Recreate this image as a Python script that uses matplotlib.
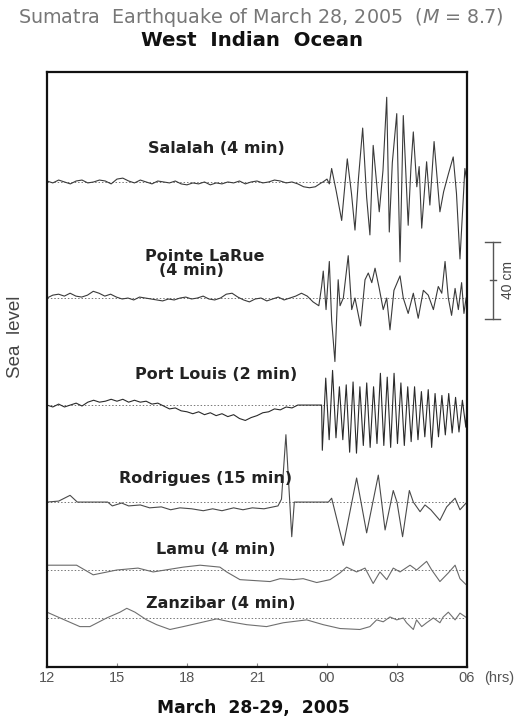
import numpy as np
import matplotlib
matplotlib.use("Agg")
import matplotlib.pyplot as plt
from matplotlib.transforms import blended_transform_factory

plt.rcParams['font.family'] = ['Liberation Sans', 'DejaVu Sans']
plt.rcParams['mathtext.fontset'] = 'custom'
plt.rcParams['mathtext.it'] = 'DejaVu Sans:italic'
plt.rcParams['mathtext.rm'] = 'DejaVu Sans'
WIDE = ['DejaVu Sans']

# time axis: hours from 00 of March 28 (24 = midnight, 30 = 06 on the 29th)
hour_ticks = [12, 15, 18, 21, 24, 27, 30]
hour_labels = ['12', '15', '18', '21', '00', '03', '06']

stations = ['Salalah (4 min)', 'Pointe LaRue', 'Port Louis (2 min)',
            'Rodrigues (15 min)', 'Lamu (4 min)', 'Zanzibar (4 min)']

# sea level deviations in cm
# Salalah: quiet record (12:00 - 23:45) then tsunami
salalah_quiet = [0.5, -0.5, 1, 0, -1, 0.5, 1, -0.5, 0, 1, 0.5, -1,
                 1.5, 2, 0.5, -0.5, 1, 0, -1, 0.5, 0, -0.5, 0.5, -1,
                 -1.5, -0.5, -1, 0, -1.5, -0.5, -1, 0, -0.5, 0.5, -1, 0,
                 0.5, -0.5, 0, 1, 0.5, -0.5, 0, -1, -2.5, -3, -2.5, -0.5]
salalah_t = [23.83, 24.0, 24.1, 24.2, 24.4, 24.63, 24.87, 25.05, 25.2, 25.35,
             25.53, 25.7, 25.84, 25.98, 26.1, 26.24, 26.4, 26.56, 26.67, 26.8,
             26.99, 27.13, 27.27, 27.48, 27.6, 27.7, 27.85, 27.95, 28.06, 28.27,
             28.41, 28.59, 28.84, 29.0, 29.2, 29.41, 29.55, 29.70, 29.91, 30.0]
salalah_v = [0, 1.5, -1, 7, -5, -20, 12, -6, -25, 2,
             28, -8, -27.5, 19, 3, -15.5, 6, 44, -26, 10,
             35.5, -41.5, 34.5, -22.5, 8, 26, -2.5, 8, -24, 10.5,
             -12, 21, -15.5, -5, 4, 13, -6, -40, 7, 0]

# Pointe LaRue
larue_quiet = [0, 1.5, 2, 1, 2.5, 1, 0.5, 1.5, 3.5, 2.5, 1, 2,
               0.5, -0.5, 0, -1, 0.5, 0, -0.5, -1, -1.5, -0.5, -1, 0,
               0.5, -0.5, 0, 1, -0.5, -1, 0, 2, 2.5, 0.5, -1, -2,
               -0.5, 0, -1.5, -0.5, 0.5, -1, 0, 1, 2.5, 1, -2, -4]
larue_t = [23.77, 23.84, 23.96, 24.10, 24.20, 24.34, 24.48, 24.56, 24.70, 24.91,
           25.06, 25.20, 25.44, 25.63, 25.77, 25.92, 26.06, 26.24, 26.41, 26.56,
           26.70, 26.87, 27.13, 27.27, 27.48, 27.70, 27.91, 28.13, 28.34, 28.56,
           28.77, 28.92, 29.06, 29.20, 29.34, 29.49, 29.63, 29.77, 29.87, 29.96]
larue_v = [6, 14, -6, 19, -11.5, -33, 9.5, -4, 0, 22,
           -6, 0, -14.5, 9.5, 13, 8, 15.5, 5, -6, 0,
           -16.5, 4, 11.5, 0, -8, 2.5, -10.5, 4, 1.5, -6,
           6, 2.5, 19, 0, -9, 5, -6, 8, -8, 0]

# Port Louis: quiet record to 22:45, gap, then fast oscillation
portlouis_quiet = [0, -1, 0.5, -1, 0, 1, -0.5, 1.5, 2.5, 1.5, 2, 3,
                   2, 3, 1.5, 2.5, 1.5, 2, 0.5, 1, -0.5, -2, -1.5, -3,
                   -3.5, -4.5, -3.5, -5, -4, -5.5, -4.5, -6, -5, -7, -8, -6.5,
                   -5.5, -4, -3.5, -2, -2.5, -1, -1.5, 0]
portlouis_wave = [-23.5, 14, -18, 18, -17, 9.5, -18, 10.5, -24.5, 12,
                  -25, 9.5, -21, 11.5, -22, 9.5, -20, 16.5, -21, 14.5,
                  -22, 16.5, -20, 11.5, -21, 9.5, -19, 9.5, -18, 7,
                  -16.5, 8, -22, 6, -16.5, 5, -15.5, 6, -14.5, 4,
                  -14, 2.5, -11.5]

# Rodrigues (15 min sampling)
rodrigues_t = [12.0, 12.5, 12.99, 13.3, 14.6, 14.8, 15.2, 15.5, 16.0, 16.4,
               16.9, 17.3, 17.7, 18.2, 18.7, 19.1, 19.5, 20.0, 20.4, 20.8,
               21.3, 21.7, 21.9, 22.05, 22.24, 22.49, 22.6, 24.06, 24.2, 24.7,
               25.27, 25.7, 26.2, 26.49, 26.84, 27.0, 27.24, 27.53, 27.7, 27.99,
               28.2, 28.45, 28.84, 29.13, 29.49, 29.7, 30.0]
rodrigues_v = [0, 0.5, 3.5, 0, 0, -2, -0.5, -2, -1.5, -3,
               -2.5, -4, -3, -3.5, -4.5, -3.5, -4.5, -3, -4, -3,
               -3.5, -2.5, -2, 1.5, 35, -18, 0, 0, 2, -22.5,
               12.5, -16, 14, -14.5, 6, 0, -18, 6, 0, -5,
               -1.5, -4, -9.5, -2.5, 2, -4, 0]

# Lamu
lamu_t = [12.0, 13.27, 13.98, 14.99, 15.9, 16.55, 17.84, 18.56, 19.41, 19.7,
          20.27, 21.56, 21.99, 22.56, 22.98, 23.56, 24.13, 24.56, 24.84, 25.27,
          25.63, 25.98, 26.27, 26.56, 26.84, 27.13, 27.56, 27.84, 28.27, 28.49,
          28.84, 29.2, 29.49, 29.7, 29.91, 30.0]
lamu_v = [2.5, 2.5, -2.5, 0, 1, -1, 1.5, 2.5, 1.5, -1,
          -5, -6, -4.5, -5, -4.5, -6.5, -5, -1.5, 1.5, -1,
          1, -7, -1, -5, 1, -1, 2.5, 0, 4.5, 0,
          -6, -1.5, 2.5, -4.5, -7, -8]

# Zanzibar
zanzibar_t = [12.0, 12.56, 13.41, 13.84, 14.56, 15.13, 15.42, 15.77, 16.27, 16.7,
              17.27, 17.84, 18.56, 19.27, 19.84, 20.56, 21.41, 22.13, 23.13, 23.84,
              24.56, 25.41, 25.84, 26.13, 26.41, 26.7, 26.99, 27.27, 27.41, 27.7,
              27.84, 28.06, 28.27, 28.56, 28.84, 28.98, 29.2, 29.49, 29.7, 30.0]
zanzibar_v = [3, 0, -4.5, -4.5, 0, 3, 5, 3, -1, -3.5,
              -6, -4.5, -2.5, -0.5, -2, -3.5, -4.5, -2.5, -1, -3.5,
              -5.5, -6, -4.5, -1, -2, 0.5, -1, 0, -2.5, -6,
              -1, -4.5, -2.5, 0, -2.5, 0.5, 3, -1, 2.5, 0]

# ---- assemble the records ----
t_sal = np.concatenate([np.linspace(12, 23.75, len(salalah_quiet)), salalah_t])
v_sal = np.concatenate([salalah_quiet, salalah_v])
t_lar = np.concatenate([np.linspace(12, 23.65, len(larue_quiet)), larue_t])
v_lar = np.concatenate([larue_quiet, larue_v])
t_pl = np.concatenate([np.linspace(12, 22.75, len(portlouis_quiet)), [23.77],
                       np.linspace(23.8, 29.95, len(portlouis_wave)), [30.0]])
v_pl = np.concatenate([portlouis_quiet, [0], portlouis_wave, [0]])

records = [(t_sal, v_sal), (t_lar, v_lar), (t_pl, v_pl),
           (rodrigues_t, rodrigues_v), (lamu_t, lamu_v), (zanzibar_t, zanzibar_v)]
offsets = [252, 191.7, 136.1, 85.7, 50.4, 25.5]   # cm above the lower frame
colors = ['#3a3a3a', '#3a3a3a', '#2a2a2a', '#4a4a4a', '#6a6a6a', '#707070']

fig = plt.figure(figsize=(5.22, 7.17), dpi=100)
ax = fig.add_axes([0.090, 0.0697, 0.8046, 0.8298])

for (t, v), off, c in zip(records, offsets, colors):
    ax.axhline(off, ls=(0, (1.5, 2)), lw=0.7, color='#777777', zorder=1)
    ax.plot(t, np.asarray(v) + off, color=c, lw=0.8, zorder=2)

ax.set_xlim(12, 30)
ax.set_ylim(0, 309.1)
ax.set_yticks([])
ax.set_xticks(hour_ticks)
ax.set_xticklabels(hour_labels)
ax.tick_params(axis='x', direction='in', length=3, width=0.8, color='#888888',
               labelsize=10.5, labelcolor='#555555', pad=3)
for s in ax.spines.values():
    s.set_linewidth(1.6)
    s.set_color('#111111')

trans = blended_transform_factory(ax.transData, ax.transAxes)
ax.text(31.37, -0.0185, '(hrs)', transform=trans, ha='center', va='center',
        fontsize=10.5, color='#555555', clip_on=False)

# station labels
label_pos = [(19.24, 269.6), (18.77, 213.5), (19.24, 152.2),
             (18.81, 98.2), (19.24, 60.8), (19.46, 33.2)]
for name, (x, y) in zip(stations, label_pos):
    ax.text(x, y, name, ha='center', va='center', fontsize=11.5, family=WIDE,
            fontweight='bold', color='#222222')
ax.text(18.21, 206.2, '(4 min)', ha='center', va='center', fontsize=11.5,
        family=WIDE, fontweight='bold', color='#222222')

# 40 cm scale bar
bar_x = 31.11
ax.plot([bar_x, bar_x], [181, 221], color='#555555', lw=1, clip_on=False)
for y, hw in [(181, 0.32), (221, 0.32), (201, 0.14)]:
    ax.plot([bar_x - hw, bar_x + hw], [y, y], color='#555555', lw=1, clip_on=False)
ax.text(31.76, 201, '40 cm', rotation=90, ha='center', va='center',
        fontsize=10, color='#444444', clip_on=False)

fig.text(0.5, 0.975, 'Sumatra  Earthquake of March 28, 2005  ($M$ = 8.7)',
         ha='center', va='center', fontsize=13.8, family=WIDE, color='#777777')
fig.text(0.483, 0.943, 'West  Indian  Ocean', ha='center', va='center',
         fontsize=14.2, family=WIDE, fontweight='bold', color='#111111')
fig.text(0.029, 0.530, 'Sea  level', rotation=90, ha='center', va='center',
         fontsize=13.5, color='#444444')
fig.text(0.485, 0.0126, 'March  28-29,  2005', ha='center', va='center',
         fontsize=12.3, family=WIDE, fontweight='bold', color='#111111')

fig.savefig('out.png', dpi=100)
